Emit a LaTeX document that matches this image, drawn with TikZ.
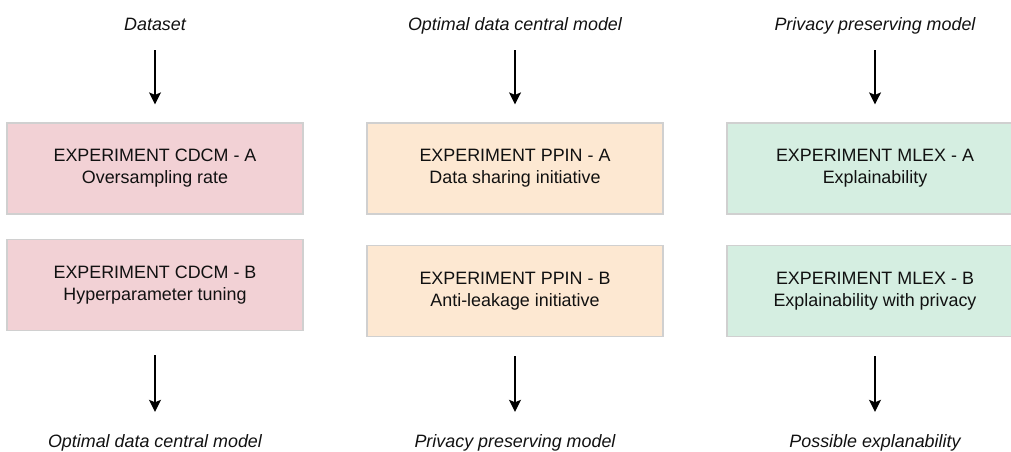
\documentclass[tikz,border=0pt]{standalone}
\usepackage{fontspec}
\setmainfont{Liberation Sans}
\usetikzlibrary{arrows.meta}
\definecolor{cdcmfill}{HTML}{F2D1D5}
\definecolor{ppinfill}{HTML}{FDE8D2}
\definecolor{mlexfill}{HTML}{D5EEE1}
\definecolor{boxline}{HTML}{D0D0D0}
\definecolor{inkc}{HTML}{111111}
\tikzset{
  expbox/.style={draw=boxline, line width=1.2pt, minimum width=296pt, minimum height=91pt,
    inner sep=0pt, align=center, font=\fontsize{17.9pt}{22pt}\selectfont, text=inkc},
  flowlabel/.style={inner sep=0pt, text height=13pt, text depth=4pt,
    font=\fontsize{17.9pt}{22pt}\selectfont\itshape, text=inkc},
  flowarrow/.style={draw=black, line width=1.2pt, -{Stealth[width=12pt,length=12pt,inset=2.5pt]}},
}
\begin{document}
\begin{tikzpicture}[x=1pt,y=-1pt]
\useasboundingbox (0,0) rectangle (1011,451);

% Column 1: CDCM experiments
\node[flowlabel, anchor=base] (in1) at (155,30) {Dataset};
\node[expbox, fill=cdcmfill] (c1a) at (155,168.5) {EXPERIMENT CDCM - A\\Oversampling rate};
\node[expbox, fill=cdcmfill] (c1b) at (155,285) {EXPERIMENT CDCM - B\\Hyperparameter tuning};
\node[flowlabel, anchor=base] (out1) at (155,447) {Optimal data central model};

% Column 2: PPIN experiments
\node[flowlabel, anchor=base] (in2) at (515,30) {Optimal data central model};
\node[expbox, fill=ppinfill] (c2a) at (515,168.5) {EXPERIMENT PPIN - A\\Data sharing initiative};
\node[expbox, fill=ppinfill] (c2b) at (515,291) {EXPERIMENT PPIN - B\\Anti-leakage initiative};
\node[flowlabel, anchor=base] (out2) at (515,447) {Privacy preserving model};

% Column 3: MLEX experiments
\node[flowlabel, anchor=base] (in3) at (875,30) {Privacy preserving model};
\node[expbox, fill=mlexfill] (c3a) at (875,168.5) {EXPERIMENT MLEX - A\\Explainability};
\node[expbox, fill=mlexfill] (c3b) at (875,291) {EXPERIMENT MLEX - B\\Explainability with privacy};
\node[flowlabel, anchor=base] (out3) at (875,447) {Possible explanability};

% Input and output arrows
\draw[flowarrow, shorten <=16pt, shorten >=18pt] (in1) -- (c1a);
\draw[flowarrow, shorten <=16pt, shorten >=18pt] (in2) -- (c2a);
\draw[flowarrow, shorten <=16pt, shorten >=18pt] (in3) -- (c3a);
\draw[flowarrow, shorten <=24pt, shorten >=22pt] (c1b) -- (out1);
\draw[flowarrow, shorten <=19pt, shorten >=22pt] (c2b) -- (out2);
\draw[flowarrow, shorten <=19pt, shorten >=22pt] (c3b) -- (out3);
\end{tikzpicture}
\end{document}
